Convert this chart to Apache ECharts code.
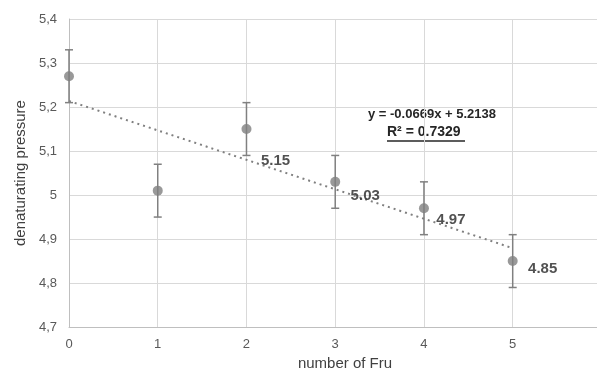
<!DOCTYPE html>
<html>
<head>
<meta charset="utf-8">
<script src="https://cdn.jsdelivr.net/npm/echarts@6/dist/echarts.min.js"></script>
<style>
  html, body { margin: 0; padding: 0; background: #fff; }
  #chart { width: 597px; height: 376px; }
</style>
</head>
<body>
<div id="chart"></div>
<script>
// data
var fruCount = [0, 1, 2, 3, 4, 5]
var pressure = [5.27, 5.01, 5.15, 5.03, 4.97, 4.85]
var errorBar = [0.06, 0.06, 0.06, 0.06, 0.06, 0.06]
var valueLabels = ['', '', '5.15', '5.03', '4.97', '4.85']
var labelOffsets = [[0, 0], [0, 0], [29, 32], [30, 14], [27, 12], [30, 8]]
var trendSlope = -0.0669
var trendIntercept = 5.2138
var yTicks = { min: 4.7, max: 5.4, interval: 0.1 }

var pointData = fruCount.map(function (x, i) {
  return {
    value: [x, pressure[i]],
    label: {
      show: valueLabels[i] !== '',
      formatter: valueLabels[i],
      offset: labelOffsets[i]
    }
  }
})
var errData = fruCount.map(function (x, i) {
  return [x, pressure[i] - errorBar[i], pressure[i] + errorBar[i]]
})
var trendData = [
  [fruCount[0], trendIntercept + trendSlope * fruCount[0]],
  [fruCount[fruCount.length - 1], trendIntercept + trendSlope * fruCount[fruCount.length - 1]]
]

var myChart = echarts.init(document.getElementById('chart'))
var option = {
  animation: false,
  grid: { left: 69, right: 0, top: 19, bottom: 45 },
  xAxis: {
    type: 'value',
    min: 0,
    max: 5.95,
    interval: 1,
    name: 'number of Fru',
    nameLocation: 'middle',
    nameGap: 28,
    nameTextStyle: { color: '#404040', fontSize: 15, fontFamily: 'Liberation Sans', padding: [0, 0, 0, 24] },
    axisLine: { show: true, lineStyle: { color: '#bfbfbf' } },
    axisTick: { show: false },
    axisLabel: {
      color: '#595959', fontSize: 13, fontFamily: 'Liberation Sans', margin: 11,
      showMaxLabel: false,
      formatter: function (v) { return v % 1 === 0 ? String(v) : '' }
    },
    splitLine: {
      show: true,
      // last line sits on the clipped right edge, hide it
      lineStyle: { color: ['#d9d9d9', '#d9d9d9', '#d9d9d9', '#d9d9d9', '#d9d9d9', '#d9d9d9', 'rgba(0,0,0,0)'] }
    }
  },
  yAxis: {
    type: 'value',
    min: yTicks.min,
    max: yTicks.max,
    interval: yTicks.interval,
    name: 'denaturating pressure',
    nameLocation: 'middle',
    nameGap: 40,
    nameTextStyle: { color: '#404040', fontSize: 15, fontFamily: 'Liberation Sans' },
    axisLine: { show: true, lineStyle: { color: '#bfbfbf' } },
    axisTick: { show: false },
    axisLabel: {
      color: '#595959', fontSize: 13, fontFamily: 'Liberation Sans', margin: 12,
      formatter: function (v) { return String(Math.round(v * 10) / 10).replace('.', ',') }
    },
    splitLine: { show: true, lineStyle: { color: '#d9d9d9' } }
  },
  series: [
    {
      name: 'trend',
      type: 'line',
      data: trendData,
      symbol: 'none',
      lineStyle: { color: '#808080', width: 2, type: [2, 4] },
      silent: true,
      z: 2
    },
    {
      name: 'error',
      type: 'custom',
      data: errData,
      renderItem: function (params, api) {
        var x = api.value(0)
        var lo = api.coord([x, api.value(1)])
        var hi = api.coord([x, api.value(2)])
        var w = 4
        var style = { stroke: '#808080', lineWidth: 1.5 }
        return {
          type: 'group',
          children: [
            { type: 'line', shape: { x1: lo[0], y1: lo[1], x2: hi[0], y2: hi[1] }, style: style },
            { type: 'line', shape: { x1: lo[0] - w, y1: lo[1], x2: lo[0] + w, y2: lo[1] }, style: style },
            { type: 'line', shape: { x1: hi[0] - w, y1: hi[1], x2: hi[0] + w, y2: hi[1] }, style: style }
          ]
        }
      },
      z: 3
    },
    {
      name: 'pressure',
      type: 'scatter',
      data: pointData,
      symbolSize: 10,
      itemStyle: { color: '#808080' },
      label: {
        position: 'inside',
        color: '#262626',
        fontSize: 15,
        fontWeight: 'bold',
        fontFamily: 'Liberation Sans'
      },
      z: 4
    }
  ],
  graphic: [
    {
      type: 'text',
      left: 368,
      top: 108,
      style: {
        text: 'y = -0.0669x + 5.2138',
        fill: '#262626',
        font: 'bold 13px "Liberation Sans"'
      }
    },
    {
      type: 'text',
      left: 387,
      top: 125,
      style: {
        text: 'R² = 0.7329',
        fill: '#262626',
        font: 'bold 14px "Liberation Sans"'
      }
    },
    {
      type: 'line',
      shape: { x1: 387, y1: 141, x2: 465, y2: 141 },
      style: { stroke: '#262626', lineWidth: 1.5 }
    }
  ]
}
myChart.setOption(option)
</script>
</body>
</html>
